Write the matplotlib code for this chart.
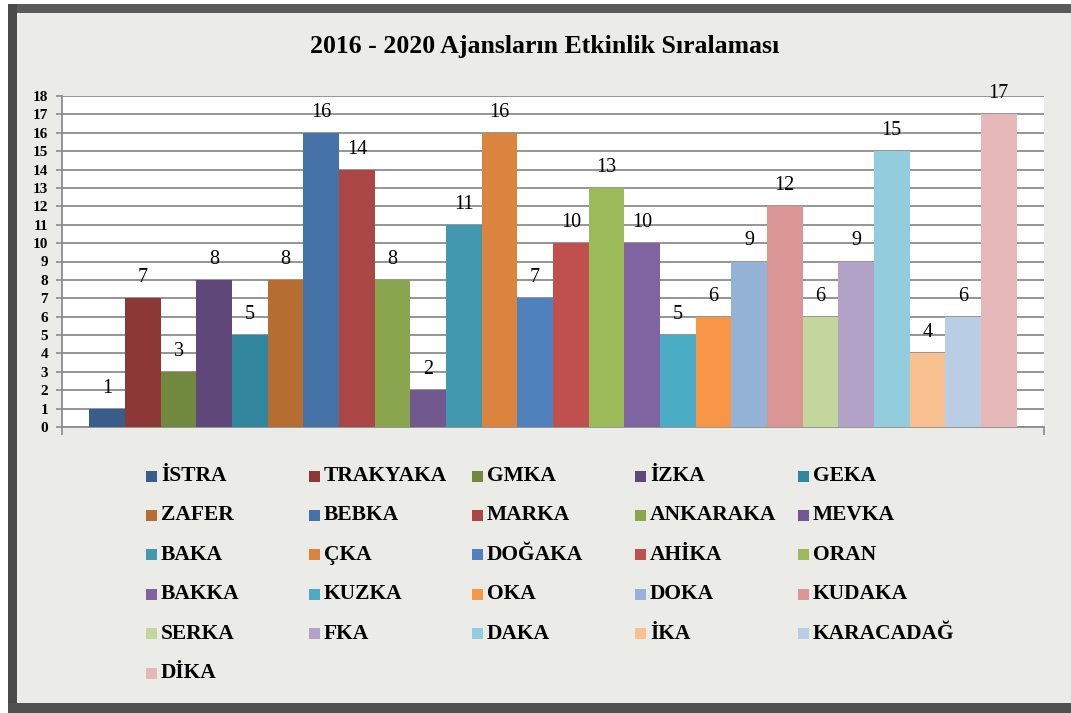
import matplotlib
matplotlib.use('Agg')
import matplotlib.pyplot as plt
from matplotlib.patches import Rectangle
import numpy as np

# ---------- DATA ----------
agencies = ['İSTRA', 'TRAKYAKA', 'GMKA', 'İZKA', 'GEKA',
            'ZAFER', 'BEBKA', 'MARKA', 'ANKARAKA', 'MEVKA',
            'BAKA', 'ÇKA', 'DOĞAKA', 'AHİKA', 'ORAN',
            'BAKKA', 'KUZKA', 'OKA', 'DOKA', 'KUDAKA',
            'SERKA', 'FKA', 'DAKA', 'İKA', 'KARACADAĞ',
            'DİKA']
ranks = [1, 7, 3, 8, 5,
         8, 16, 14, 8, 2,
         11, 16, 7, 10, 13,
         10, 5, 6, 9, 12,
         6, 9, 15, 4, 6,
         17]
colors = ['#385D8A', '#8C3836', '#71893F', '#5F4879', '#31859C',
          '#B66D31', '#4572A7', '#AA4643', '#89A54E', '#71588F',
          '#4198AF', '#DB843D', '#4F81BD', '#C0504D', '#9BBB59',
          '#8064A2', '#4BACC6', '#F79646', '#95B3D7', '#D99694',
          '#C3D69B', '#B3A2C7', '#93CDDD', '#FAC090', '#B9CDE5',
          '#E6B9B8']
title = '2016 - 2020 Ajansların Etkinlik Sıralaması'
yticks = list(range(0, 19))

plt.rcParams['font.family'] = ['Liberation Serif', 'DejaVu Serif']

W, H = 1071, 713
fig = plt.figure(figsize=(W / 100, H / 100), dpi=100)
fig.patch.set_facecolor('white')

def px(x, y):
    # pixel coords (top-left origin) -> figure fraction
    return x / W, 1 - y / H

# stone-grey panel + dark frame (behind the axes)
fig.patches.append(Rectangle((12 / W, 1 - 709 / H), (W - 12) / W, (709 - 8) / H,
                             transform=fig.transFigure, facecolor='#ebebe8',
                             edgecolor='none', zorder=-2))
for (x0, y0, w, h, c) in [(8, 4, W - 8, 9, '#5a5a5a'),
                          (8, 4, 9, 709 - 4, '#4a4a4a'),
                          (8, 703, W - 8, 10, '#505050')]:
    fig.patches.append(Rectangle((x0 / W, 1 - (y0 + h) / H), w / W, h / H,
                                 transform=fig.transFigure, facecolor=c,
                                 edgecolor='none', zorder=-1))

# ---------- PLOT AREA ----------
left, right, top, bottom = 62, 1044, 96, 427
ax = fig.add_axes([left / W, 1 - bottom / H, (right - left) / W, (bottom - top) / H])
ax.set_facecolor('white')
x = np.arange(len(ranks))
ax.bar(x, ranks, width=1.0, color=colors, zorder=3)
for xi, v in zip(x, ranks):
    ax.text(xi, v + 0.6, str(v), ha='center', va='bottom', fontsize=14.5, zorder=4)

g = 0.77
ax.set_xlim(-0.5 - g, len(ranks) - 0.5 + g)
ax.set_ylim(0, 18)
ax.set_yticks(yticks)
ax.set_yticklabels([str(t) for t in yticks], fontsize=11, fontweight='bold')
ax.set_xticks([-0.5 - g, len(ranks) - 0.5 + g])
ax.set_xticklabels([])
ax.yaxis.grid(True, color='#8c8c8c', lw=1.3, zorder=1)
ax.tick_params(axis='y', direction='out', length=4, color='#8c8c8c', width=1.2, pad=6)
ax.tick_params(axis='x', direction='out', length=6, color='#8c8c8c', width=1.2)
for s in ['top', 'right']:
    ax.spines[s].set_visible(False)
for s in ['left', 'bottom']:
    ax.spines[s].set_color('#8c8c8c')
    ax.spines[s].set_linewidth(1.3)

# ---------- TITLE ----------
tx, ty = px(545, 47)
fig.text(tx, ty, title, ha='center', va='center', fontsize=18.5, fontweight='bold')

# ---------- LEGEND ----------
ncol = 5
col_x0, col_dx = 146, 163
row_y0, row_dy = 476, 39.4
for i, (name, c) in enumerate(zip(agencies, colors)):
    r, k = divmod(i, ncol)
    mx = col_x0 + k * col_dx
    my = row_y0 + r * row_dy
    fig.patches.append(Rectangle((mx / W, 1 - (my + 5.5) / H), 11 / W, 11 / H,
                                 transform=fig.transFigure, facecolor=c,
                                 edgecolor='none', zorder=3))
    lx, ly = px(mx + 15, my)
    fig.text(lx, ly, name, ha='left', va='center', fontsize=15.5, fontweight='bold')

fig.savefig('out.png', dpi=100)
